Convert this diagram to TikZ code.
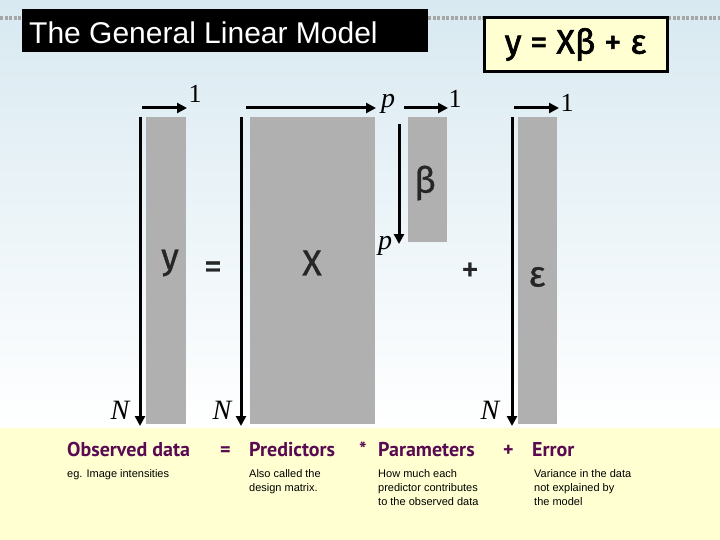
\documentclass[tikz,border=0pt]{standalone}
\usepackage{fontspec}
\setmainfont{Liberation Sans}
\newfontfamily\serifm{Liberation Serif}
\newfontfamily\cond{Fira Sans}
\newfontfamily\condb{PT Sans}
\usetikzlibrary{arrows.meta}
\definecolor{bgblue}{HTML}{D8E9F1}
\definecolor{byel}{HTML}{FFFFD2}
\definecolor{purp}{HTML}{5A0A50}
\definecolor{gcol}{HTML}{B0B0B0}
\tikzset{
 col/.style={fill=gcol,draw=none},
 dimarrow/.style={line width=3pt,-{Triangle[length=10pt,width=10pt]}},
 idx/.style={font=\serifm\fontsize{26}{26}\selectfont,inner sep=0pt},
 idxi/.style={font=\serifm\itshape\fontsize{28}{28}\selectfont,inner sep=0pt},
 sym/.style={font=\cond\fontsize{36}{36}\selectfont\addfontfeatures{FakeBold=0.8},inner sep=0pt,text=black!85},
 head/.style={font=\condb\bfseries\fontsize{20}{20}\selectfont,text=purp,anchor=base west,inner sep=0pt},
 note/.style={font=\fontsize{11}{14}\selectfont,anchor=north west,align=left,inner sep=0pt},
 dots/.style={gray!70,line width=4pt,dash pattern=on 3pt off 1.5pt}
}
\begin{document}
\begin{tikzpicture}[x=1pt,y=-1pt]
\useasboundingbox (0,0) rectangle (720,540);
\shade[top color=bgblue,bottom color=white] (0,0) rectangle (720,428);
\fill[byel] (0,428) rectangle (720,540);
\draw[dots] (0,18) -- (22,18) (428,18) -- (490,18) (668,18) -- (720,18);
\node[fill=black,minimum width=406pt,minimum height=43pt,inner sep=0pt] (title) at (225,31) {};
\node[text=white,font=\fontsize{30}{30}\selectfont,anchor=west,inner sep=0pt] (tt) at (29,33) {The General Linear Model};
\node[fill=byel,draw=black,line width=3pt,minimum width=183pt,minimum height=54pt,inner sep=0pt,font=\cond\fontsize{34}{34}\selectfont\addfontfeatures{FakeBold=2}] (eq) at (575.5,44.5) {y = Xβ + ε};
% columns
\node[col,anchor=north west,minimum width=40pt,minimum height=307pt,inner sep=0pt] (Y) at (146,117) {};
\node[col,anchor=north west,minimum width=125pt,minimum height=307pt,inner sep=0pt] (X) at (250,117) {};
\node[col,anchor=north west,minimum width=39pt,minimum height=125pt,inner sep=0pt] (B) at (408,117) {};
\node[col,anchor=north west,minimum width=39pt,minimum height=307pt,inner sep=0pt] (E) at (518,117) {};
% dimension arrows
\coordinate (y1) at (140,117); \coordinate (y2) at (140,426);
\coordinate (y3) at (142,108); \coordinate (y4) at (187,108);
\draw[dimarrow] (y1) -- (y2); \draw[dimarrow] (y3) -- (y4);
\coordinate (x1) at (241,117); \coordinate (x2) at (241,426);
\coordinate (x3) at (246,108); \coordinate (x4) at (376,108);
\draw[dimarrow] (x1) -- (x2); \draw[dimarrow] (x3) -- (x4);
\coordinate (b1) at (399,124); \coordinate (b2) at (399,244);
\coordinate (b3) at (404,108); \coordinate (b4) at (448,108);
\draw[dimarrow] (b1) -- (b2); \draw[dimarrow] (b3) -- (b4);
\coordinate (e1) at (512,117); \coordinate (e2) at (512,426);
\coordinate (e3) at (514,108); \coordinate (e4) at (559,108);
\draw[dimarrow] (e1) -- (e2); \draw[dimarrow] (e3) -- (e4);
\node[idx] (l1) at (195,94) {1};
\node[idxi] (lp) at (388,104) {p};
\node[idx] (l2) at (455,99) {1};
\node[idx] (l3) at (567,103) {1};
\node[idxi] (lp2) at (385,246) {p};
\node[idxi] (n1) at (120,410) {N};
\node[idxi] (n2) at (222,410) {N};
\node[idxi] (n3) at (490,410) {N};
% symbols
\node[sym] (sy) at (170,263) {y};
\node[sym] (seq) at (213,270) {=};
\node[sym] (sx) at (312,263) {X};
\node[sym] (sb) at (425,183) {β};
\node[sym] (sp) at (470,272) {+};
\node[sym] (se) at (537,277) {ε};
% bottom
\node[head] (h1) at (67,456) {Observed data};
\node[head] (h2) at (220,456) {=};
\node[head] (h3) at (249,456) {Predictors};
\node[head] (h4) at (359,456) {*};
\node[head] (h5) at (378,456) {Parameters};
\node[head] (h6) at (503,456) {+};
\node[head] (h7) at (532,456) {Error};
\node[note] (t1) at (67,469) {eg. Image intensities};
\node[note] (t2) at (249,469) {Also called the\\design matrix.};
\node[note] (t3) at (378,469) {How much each\\predictor contributes\\to the observed data};
\node[note] (t4) at (534,469) {Variance in the data\\not explained by\\the model};
\end{tikzpicture}
\end{document}
